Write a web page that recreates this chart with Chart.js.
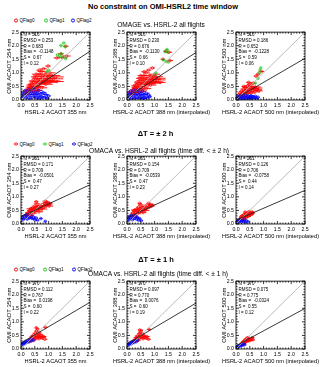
<!DOCTYPE html>
<html>
<head>
<meta charset="utf-8">
<script src="https://cdn.jsdelivr.net/npm/chart.js@4.4.0/dist/chart.umd.min.js"></script>
<style>
  body { margin: 0; background: #fff; width: 320px; height: 367px; overflow: hidden; position: relative;
         font-family: "Liberation Sans", Arial, sans-serif; color: #000; }
  .t { position: absolute; white-space: nowrap; transform: translate(-50%, -50%); }
  .h { font-weight: bold; font-size: 7.5px; }
  .s { font-size: 6.6px; }
  .lg { position: absolute; white-space: nowrap; font-size: 4.6px; transform: translateY(-50%); line-height: 5px; }
  .lg i { display: inline-block; width: 1.8px; height: 1.8px; border: 0.7px solid; border-radius: 50%;
          margin-right: 1.2px; vertical-align: middle; }
  canvas { position: absolute; }
</style>
</head>
<body>
<script>
// ---- text ----
const rowHeadings = ["No constraint on OMI-HSRL2 time window", "\u0394T = \u00b1 2 h", "\u0394T = \u00b1 1 h"];
const rowSubtitles = ["OMAGE vs. HSRL-2 all flights",
  "OMACA vs. HSRL-2 all flights (time diff. < \u00b1 2 h)",
  "OMACA vs. HSRL-2 all flights (time diff. < \u00b1 1 h)"];
const flagLabels = ["QFlag0", "QFlag1", "QFlag2"];
const flagColors = ["#ff0000", "#22cc22", "#0000ff"];
const xTitles = ["HSRL-2 ACAOT 355 nm", "HSRL-2 ACAOT 388 nm (interpolated)", "HSRL-2 ACAOT 500 nm (interpolated)"];
const yTitles = ["OMI ACAOT 354 nm", "OMI ACAOT 388 nm", "OMI ACAOT 500 nm"];
const tickValues = [0.0, 0.5, 1.0, 1.5, 2.0, 2.5];

// ---- statistics per panel (row by row) ----
const statN = [516, 516, 516, 251, 251, 251, 170, 170, 170];
const statRmsd = ["0.253", "0.230", "0.186", "0.171", "0.154", "0.126", "0.112", "0.097", "0.075"];
const statR = ["0.683", "0.676", "0.652", "0.709", "0.709", "0.706", "0.767", "0.770", "0.775"];
const statBias = ["-0.1148", "-0.1130", "-0.1228", "-0.0501", "-0.0539", "-0.0758", "0.0198", "0.0076", "-0.0324"];
const statS = [0.67, 0.66, 0.59, 0.47, 0.47, 0.44, 0.60, 0.60, 0.55];
const statI = [0.12, 0.10, 0.06, 0.27, 0.23, 0.14, 0.22, 0.19, 0.12];

// ---- points: [HSRL-2 AOT, OMI AOT, HSRL-2 error] ----
const r1p1Red = [[0.15,0.32,0.08],[0.20,0.22,0.1],[0.25,0.40,0.1],[0.28,0.30,0.12],[0.32,0.48,0.15],[0.35,0.36,0.1],
  [0.38,0.58,0.12],[0.42,0.44,0.2],[0.45,0.30,0.12],[0.46,0.66,0.15],[0.50,0.52,0.2],[0.52,0.78,0.12],[0.55,0.40,0.15],
  [0.58,0.60,0.25],[0.60,0.88,0.15],[0.62,0.70,0.2],[0.65,0.50,0.2],[0.68,0.96,0.12],[0.70,0.78,0.25],[0.72,0.62,0.2],
  [0.75,1.05,0.15],[0.78,0.86,0.2],[0.80,0.68,0.3],[0.82,1.15,0.12],[0.85,0.78,0.3],[0.88,0.95,0.2],[0.90,0.58,0.25],
  [0.92,0.72,0.3],[0.95,0.88,0.25],[0.98,1.25,0.1],[1.00,0.80,0.3],[1.05,1.00,0.2],[1.08,0.70,0.35],[1.12,0.90,0.3],
  [1.18,0.78,0.35],[1.25,0.85,0.3],[1.30,0.68,0.25],[0.55,0.95,0.15],[0.40,0.70,0.12],[0.30,0.55,0.1],[0.62,0.35,0.15],
  [0.75,0.45,0.2],[1.30,1.55,0.12],[1.50,1.56,0.18],[1.62,1.98,0.1],[1.65,1.62,0.15],[1.45,1.70,0.1],
  [0.48,0.85,0.12],[0.66,1.10,0.1],[0.85,0.62,0.25],[1.00,0.65,0.3],[0.36,0.46,0.15],[0.58,0.50,0.2]];
const r1p1Green = [[1.55,2.10,0.05],[1.45,2.00,0.05],[1.60,1.96,0.04],[1.46,1.70,0.05],[1.32,1.66,0.05],[1.40,1.60,0.04],
  [1.55,1.58,0.05],[1.62,1.52,0.04],[1.00,1.10,0.05],[0.95,1.05,0.04]];
const r1p1Blue = [[0.02,0.18,0.03],[0.05,0.28,0.05],[0.08,0.12,0.05],[0.12,0.22,0.06],[0.15,0.35,0.08],[0.18,0.08,0.08],
  [0.22,0.26,0.1],[0.25,0.15,0.1],[0.28,0.38,0.1],[0.32,0.05,0.1],[0.35,0.22,0.12],[0.38,0.30,0.1],[0.42,0.12,0.12],
  [0.45,0.42,0.1],[0.48,0.20,0.15],[0.52,0.30,0.12],[0.55,0.08,0.12],[0.58,0.25,0.15],[0.62,0.15,0.15],[0.65,0.35,0.12],
  [0.68,0.05,0.12],[0.72,0.22,0.15],[0.75,0.12,0.15],[0.80,0.28,0.12],[0.85,0.10,0.12],[0.90,0.20,0.1],[0.95,0.06,0.08],
  [1.00,0.15,0.08]];

const r1p2Red = [[0.12,0.30,0.08],[0.18,0.20,0.1],[0.22,0.38,0.1],[0.25,0.28,0.12],[0.28,0.45,0.12],[0.32,0.34,0.1],
  [0.35,0.55,0.12],[0.38,0.42,0.18],[0.40,0.28,0.12],[0.42,0.62,0.15],[0.45,0.50,0.2],[0.48,0.72,0.12],[0.50,0.38,0.15],
  [0.52,0.58,0.22],[0.55,0.82,0.15],[0.58,0.66,0.2],[0.60,0.48,0.2],[0.62,0.90,0.12],[0.65,0.74,0.22],[0.68,0.58,0.2],
  [0.70,1.00,0.12],[0.72,0.80,0.2],[0.75,0.64,0.28],[0.78,1.10,0.1],[0.80,0.74,0.28],[0.82,0.90,0.2],[0.85,0.55,0.22],
  [0.88,0.68,0.28],[0.90,0.84,0.22],[0.92,1.18,0.1],[0.95,0.76,0.28],[1.00,0.95,0.2],[1.02,0.66,0.3],[1.05,0.86,0.25],
  [1.10,0.74,0.3],[1.15,0.80,0.25],[1.20,0.65,0.2],[0.50,0.90,0.12],[0.36,0.66,0.1],[0.26,0.52,0.1],[0.56,0.33,0.15],
  [0.70,0.42,0.18],[1.52,1.76,0.12],[1.40,1.80,0.08],[1.55,1.45,0.12],[1.30,1.50,0.08],
  [0.44,0.80,0.12],[0.62,1.04,0.1],[0.78,0.60,0.25],[0.95,0.62,0.28],[0.33,0.44,0.15]];
const r1p2Green = [[1.45,1.86,0.05],[1.38,1.78,0.04],[1.48,1.76,0.04],[1.32,1.48,0.05],[1.42,1.42,0.04],[1.50,1.40,0.05],
  [1.05,1.00,0.04],[1.00,0.95,0.04]];
const r1p2Blue = [[0.02,0.16,0.03],[0.05,0.26,0.05],[0.08,0.10,0.05],[0.10,0.22,0.06],[0.13,0.32,0.08],[0.16,0.06,0.08],
  [0.20,0.24,0.1],[0.22,0.14,0.1],[0.25,0.36,0.1],[0.28,0.05,0.1],[0.30,0.20,0.12],[0.33,0.28,0.1],[0.36,0.10,0.12],
  [0.40,0.38,0.1],[0.42,0.18,0.14],[0.45,0.28,0.12],[0.48,0.06,0.12],[0.50,0.22,0.14],[0.54,0.14,0.14],[0.56,0.32,0.12],
  [0.60,0.05,0.12],[0.62,0.20,0.14],[0.65,0.10,0.14],[0.70,0.25,0.12],[0.74,0.08,0.1],[0.78,0.18,0.1],[0.82,0.12,0.08]];

const r1p3Red = [[0.10,0.18,0.06],[0.14,0.25,0.08],[0.18,0.15,0.08],[0.20,0.32,0.1],[0.24,0.22,0.1],[0.26,0.40,0.1],
  [0.30,0.28,0.12],[0.32,0.18,0.1],[0.34,0.46,0.1],[0.36,0.34,0.15],[0.40,0.24,0.12],[0.42,0.52,0.12],[0.44,0.38,0.15],
  [0.48,0.30,0.15],[0.50,0.58,0.1],[0.52,0.44,0.18],[0.55,0.26,0.15],[0.58,0.50,0.15],[0.60,0.36,0.2],[0.62,0.62,0.1],
  [0.65,0.42,0.18],[0.68,0.30,0.2],[0.70,0.48,0.2],[0.74,0.38,0.2],[0.78,0.44,0.18],[0.82,0.34,0.15],[0.28,0.50,0.08],
  [0.46,0.65,0.1],[0.80,0.95,0.08],[0.92,1.05,0.1],[0.72,0.88,0.08]];
const r1p3Green = [[0.90,1.18,0.03],[0.87,1.10,0.03],[0.84,1.00,0.03],[0.80,0.80,0.03],[0.70,0.62,0.03]];
const r1p3Blue = [[0.02,0.08,0.03],[0.05,0.14,0.04],[0.08,0.04,0.05],[0.12,0.10,0.06],[0.15,0.16,0.06],[0.18,0.06,0.08],
  [0.22,0.12,0.08],[0.25,0.03,0.08],[0.28,0.14,0.1],[0.32,0.08,0.1],[0.35,0.18,0.1],[0.38,0.05,0.1],[0.42,0.11,0.12],
  [0.45,0.15,0.1],[0.48,0.04,0.1],[0.52,0.10,0.12],[0.55,0.16,0.1],[0.58,0.06,0.1],[0.62,0.12,0.1],[0.66,0.08,0.1],
  [0.70,0.14,0.08],[0.75,0.05,0.08],[0.80,0.10,0.06]];

const r2p1Red = [[0.20,0.32,0.08],[0.25,0.42,0.1],[0.30,0.36,0.12],[0.32,0.50,0.1],[0.36,0.30,0.1],[0.40,0.46,0.15],
  [0.42,0.58,0.12],[0.45,0.40,0.12],[0.48,0.54,0.2],[0.50,0.66,0.12],[0.52,0.48,0.15],[0.55,0.60,0.2],[0.58,0.74,0.12],
  [0.60,0.52,0.2],[0.62,0.64,0.15],[0.65,0.45,0.15],[0.68,0.58,0.2],[0.72,0.68,0.15],[0.75,0.55,0.2],[0.80,0.62,0.15],
  [0.85,0.76,0.12],[0.88,0.84,0.1],[0.90,0.68,0.15],[0.92,0.80,0.12],[0.95,0.72,0.15],[1.00,0.78,0.12],[1.02,0.66,0.15],
  [1.05,0.74,0.1],[0.55,0.82,0.08],[0.35,0.56,0.15]];
const r2p1Green = [];
const r2p1Blue = [[0.02,0.20,0.03],[0.05,0.26,0.05],[0.08,0.16,0.05],[0.12,0.30,0.08],[0.15,0.22,0.08],[0.18,0.34,0.08],
  [0.22,0.18,0.1],[0.25,0.28,0.1],[0.30,0.24,0.1],[0.35,0.32,0.1],[0.40,0.20,0.1],[0.45,0.26,0.08],[0.50,0.16,0.08],
  [0.55,0.22,0.06],[0.60,0.14,0.06],[0.72,0.20,0.06],[0.88,0.10,0.05]];

const r2p2Red = [[0.15,0.30,0.08],[0.20,0.40,0.08],[0.24,0.34,0.1],[0.26,0.48,0.1],[0.30,0.28,0.1],[0.32,0.44,0.12],
  [0.35,0.54,0.1],[0.38,0.38,0.12],[0.40,0.50,0.15],[0.42,0.62,0.1],[0.45,0.44,0.12],[0.48,0.56,0.15],[0.50,0.70,0.1],
  [0.52,0.48,0.15],[0.55,0.60,0.12],[0.58,0.42,0.12],[0.60,0.54,0.15],[0.64,0.64,0.12],[0.66,0.50,0.15],[0.70,0.58,0.12],
  [0.74,0.70,0.1],[0.78,0.76,0.08],[0.80,0.62,0.12],[0.84,0.72,0.1],[0.88,0.66,0.12],[0.92,0.70,0.08],[0.46,0.76,0.08],
  [0.28,0.52,0.12]];
const r2p2Green = [];
const r2p2Blue = [[0.02,0.18,0.03],[0.05,0.24,0.04],[0.08,0.14,0.05],[0.10,0.28,0.06],[0.13,0.20,0.06],[0.16,0.32,0.06],
  [0.20,0.16,0.08],[0.23,0.26,0.08],[0.27,0.22,0.08],[0.30,0.30,0.08],[0.34,0.18,0.08],[0.38,0.24,0.06],[0.42,0.14,0.06],
  [0.46,0.20,0.05],[0.52,0.12,0.05]];

const r2p3Red = [[0.15,0.20,0.06],[0.18,0.26,0.06],[0.20,0.18,0.06],[0.22,0.30,0.08],[0.25,0.24,0.08],[0.28,0.34,0.08],
  [0.30,0.20,0.08],[0.32,0.28,0.1],[0.35,0.38,0.08],[0.37,0.24,0.08],[0.40,0.32,0.1],[0.42,0.42,0.08],[0.44,0.28,0.1],
  [0.46,0.36,0.1],[0.48,0.46,0.06],[0.50,0.32,0.1],[0.52,0.40,0.08],[0.55,0.36,0.08],[0.58,0.44,0.06],[0.60,0.38,0.06],
  [0.62,0.42,0.05],[0.33,0.44,0.06]];
const r2p3Green = [];
const r2p3Blue = [[0.02,0.08,0.03],[0.05,0.12,0.03],[0.08,0.06,0.04],[0.10,0.14,0.05],[0.13,0.10,0.05],[0.16,0.16,0.05],
  [0.20,0.08,0.06],[0.23,0.13,0.06],[0.27,0.10,0.06],[0.30,0.16,0.05],[0.34,0.06,0.05],[0.38,0.12,0.05],[0.44,0.08,0.04]];

const r3p1Red = [[0.30,0.28,0.08],[0.34,0.36,0.1],[0.38,0.30,0.1],[0.40,0.44,0.1],[0.42,0.38,0.12],[0.45,0.50,0.1],
  [0.48,0.34,0.12],[0.50,0.46,0.15],[0.52,0.58,0.1],[0.54,0.42,0.12],[0.56,0.66,0.08],[0.58,0.52,0.12],[0.60,0.74,0.06],
  [0.62,0.46,0.12],[0.64,0.60,0.1],[0.66,0.38,0.12],[0.68,0.54,0.12],[0.72,0.48,0.15],[0.76,0.42,0.15],[0.80,0.46,0.12],
  [0.88,0.80,0.08],[0.86,0.36,0.1],[0.55,0.78,0.05]];
const r3p1Green = [];
const r3p1Blue = [[0.02,0.16,0.03],[0.05,0.20,0.03],[0.08,0.18,0.04],[0.10,0.24,0.05],[0.14,0.20,0.05],[0.17,0.28,0.05],
  [0.20,0.24,0.06],[0.24,0.30,0.06],[0.28,0.26,0.06],[0.32,0.34,0.06],[0.36,0.30,0.05],[0.40,0.36,0.05],[0.45,0.32,0.05]];

const r3p2Red = [[0.25,0.28,0.08],[0.28,0.34,0.08],[0.32,0.30,0.1],[0.34,0.42,0.1],[0.36,0.36,0.1],[0.38,0.48,0.1],
  [0.40,0.32,0.1],[0.42,0.44,0.12],[0.44,0.56,0.08],[0.46,0.40,0.12],[0.48,0.62,0.06],[0.50,0.50,0.1],[0.52,0.68,0.05],
  [0.54,0.44,0.1],[0.56,0.56,0.08],[0.58,0.38,0.1],[0.60,0.50,0.1],[0.64,0.44,0.12],[0.68,0.40,0.12],[0.72,0.46,0.1],
  [0.80,0.72,0.08],[0.78,0.36,0.08],[0.46,0.70,0.05]];
const r3p2Green = [];
const r3p2Blue = [[0.02,0.14,0.03],[0.05,0.18,0.03],[0.08,0.16,0.04],[0.10,0.22,0.04],[0.13,0.18,0.05],[0.16,0.26,0.05],
  [0.19,0.22,0.05],[0.22,0.28,0.05],[0.26,0.24,0.05],[0.30,0.30,0.05],[0.34,0.27,0.05],[0.38,0.32,0.04]];

const r3p3Red = [[0.20,0.18,0.06],[0.23,0.24,0.06],[0.26,0.20,0.08],[0.28,0.28,0.08],[0.30,0.22,0.08],[0.32,0.32,0.08],
  [0.34,0.26,0.08],[0.36,0.36,0.08],[0.38,0.28,0.1],[0.40,0.40,0.06],[0.42,0.32,0.1],[0.44,0.42,0.05],[0.46,0.30,0.1],
  [0.48,0.36,0.08],[0.52,0.32,0.1],[0.56,0.38,0.08],[0.60,0.42,0.06],[0.62,0.34,0.05]];
const r3p3Green = [];
const r3p3Blue = [[0.02,0.06,0.02],[0.04,0.09,0.03],[0.07,0.08,0.03],[0.09,0.12,0.03],[0.12,0.10,0.04],[0.15,0.14,0.04],
  [0.18,0.12,0.04],[0.21,0.16,0.04],[0.25,0.14,0.04],[0.28,0.18,0.04],[0.32,0.16,0.04]];

const panelRed = [r1p1Red, r1p2Red, r1p3Red, r2p1Red, r2p2Red, r2p3Red, r3p1Red, r3p2Red, r3p3Red];
const panelGreen = [r1p1Green, r1p2Green, r1p3Green, r2p1Green, r2p2Green, r2p3Green, r3p1Green, r3p2Green, r3p3Green];
const panelBlue = [r1p1Blue, r1p2Blue, r1p3Blue, r2p1Blue, r2p2Blue, r2p3Blue, r3p1Blue, r3p2Blue, r3p3Blue];

// ---- layout (pixels) ----
const PLOT_LEFT = [21, 127, 236];
const PLOT_TOP = [31, 155, 280];
const PLOT_SIZE = 69;
const AX_W = 20, AX_H = 17, PAD_T = 4, PAD_R = 16;
const headingPos = [[163, 5.5], [155.5, 133], [156, 259.3]];
const subtitlePos = [[161, 24.3], [159, 149.7], [158, 273.3]];
const legendY = [20, 143.7, 269.3];
const legendX = [[16, 46, 73], [16, 45, 74], [16, 45, 74]];
const FONT = '"Liberation Sans", Arial, sans-serif';

function addText(cls, text, x, y) {
  const d = document.createElement("div");
  d.className = cls;
  d.textContent = text;
  d.style.left = x + "px";
  d.style.top = y + "px";
  document.body.appendChild(d);
  return d;
}

function addLegend(row) {
  flagLabels.forEach((label, k) => {
    const d = document.createElement("div");
    d.className = "lg";
    d.style.left = (legendX[row][k] - 1.6) + "px";
    d.style.top = legendY[row] + "px";
    const mark = document.createElement("i");
    mark.style.borderColor = flagColors[k];
    d.appendChild(mark);
    d.appendChild(document.createTextNode(label));
    document.body.appendChild(d);
  });
}

// horizontal error bars drawn under the markers
const errorBars = {
  id: "errorBars",
  beforeDatasetsDraw(chart) {
    const { ctx, scales: { x, y } } = chart;
    ctx.save();
    ctx.lineWidth = 0.9;
    chart.data.datasets.forEach(ds => {
      if (!ds.errBars) return;
      ctx.strokeStyle = ds.borderColor;
      ds.data.forEach(p => {
        const py = y.getPixelForValue(p.y);
        ctx.beginPath();
        ctx.moveTo(x.getPixelForValue(p.x - p.e), py);
        ctx.lineTo(x.getPixelForValue(p.x + p.e), py);
        ctx.stroke();
      });
    });
    ctx.restore();
  }
};

// box frame with inward ticks, the x title (not squeezed to axis width) and the statistics block
const frameAndStats = {
  id: "frameAndStats",
  afterDraw(chart, args, opts) {
    const { ctx, chartArea: a, scales: { x, y } } = chart;
    ctx.save();
    ctx.strokeStyle = "#000";
    ctx.lineWidth = 0.8;
    ctx.strokeRect(a.left, a.top, a.right - a.left, a.bottom - a.top);
    ctx.beginPath();
    for (let k = 0; k <= 25; k++) {
      const v = k / 10;
      const len = k % 5 === 0 ? 3 : 1.5;
      const px = x.getPixelForValue(v), py = y.getPixelForValue(v);
      ctx.moveTo(px, a.bottom); ctx.lineTo(px, a.bottom - len);
      ctx.moveTo(px, a.top); ctx.lineTo(px, a.top + len);
      ctx.moveTo(a.left, py); ctx.lineTo(a.left + len, py);
      ctx.moveTo(a.right, py); ctx.lineTo(a.right - len, py);
    }
    ctx.stroke();
    ctx.fillStyle = "#000";
    ctx.textBaseline = "middle";
    ctx.textAlign = "center";
    ctx.font = "5.7px " + FONT;
    ctx.fillText(opts.xTitle, (a.left + a.right) / 2, a.bottom + 12.5);
    ctx.textAlign = "left";
    ctx.font = "4.5px " + FONT;
    opts.lines.forEach((line, i) => ctx.fillText(line, a.left + 2.5, a.top + 3 + i * 5.7));
    ctx.restore();
  }
};

function toPoints(arr) {
  return arr.map(p => ({ x: p[0], y: p[1], e: p[2] }));
}

function makePanel(row, col) {
  const i = row * 3 + col;
  const canvas = document.createElement("canvas");
  canvas.width = AX_W + PLOT_SIZE + PAD_R;
  canvas.height = PAD_T + PLOT_SIZE + AX_H;
  canvas.style.left = (PLOT_LEFT[col] - AX_W) + "px";
  canvas.style.top = (PLOT_TOP[row] - PAD_T) + "px";
  document.body.appendChild(canvas);

  const lo = tickValues[0], hi = tickValues[tickValues.length - 1];
  const marker = color => ({
    pointStyle: "circle", pointRadius: 1.3, pointBorderWidth: 0.7,
    borderColor: color, backgroundColor: "rgba(0,0,0,0)", errBars: true
  });
  const axisFont = { family: FONT, size: 5.2 };

  new Chart(canvas, {
    type: "scatter",
    data: {
      datasets: [
        { data: [{ x: lo, y: statI[i] + statS[i] * lo }, { x: hi, y: statI[i] + statS[i] * hi }],
          showLine: true, pointRadius: 0, borderColor: "#222", borderWidth: 0.9 },
        { data: [{ x: lo, y: lo }, { x: hi, y: hi }],
          showLine: true, pointRadius: 0, borderColor: "#b4b4b4", borderWidth: 0.9 },
        Object.assign({ data: toPoints(panelGreen[i]) }, marker(flagColors[1])),
        Object.assign({ data: toPoints(panelBlue[i]) }, marker(flagColors[2])),
        Object.assign({ data: toPoints(panelRed[i]) }, marker(flagColors[0]))
      ]
    },
    options: {
      responsive: false,
      devicePixelRatio: 1,
      animation: false,
      events: [],
      layout: { padding: { top: PAD_T, right: PAD_R, left: 0, bottom: 0 } },
      plugins: {
        legend: { display: false },
        tooltip: { enabled: false },
        frameAndStats: {
          xTitle: xTitles[col],
          lines: ["N = " + statN[i], "RMSD = " + statRmsd[i], "R = " + statR[i],
                  "Bias =  " + statBias[i], "S =  " + statS[i].toFixed(2), "I = " + statI[i].toFixed(2)]
        }
      },
      scales: {
        x: {
          type: "linear", min: lo, max: hi,
          afterBuildTicks: s => { s.ticks = tickValues.map(v => ({ value: v })); },
          afterFit: s => { s.height = AX_H; },
          grid: { display: false, drawTicks: false }, border: { display: false },
          ticks: { font: axisFont, color: "#000", padding: 2.9, maxRotation: 0, autoSkip: false,
                   callback: v => v.toFixed(1) }
        },
        y: {
          type: "linear", min: lo, max: hi,
          afterBuildTicks: s => { s.ticks = tickValues.map(v => ({ value: v })); },
          afterFit: s => { s.width = AX_W; },
          grid: { display: false, drawTicks: false }, border: { display: false },
          ticks: { font: axisFont, color: "#000", padding: 2, autoSkip: false,
                   callback: v => v.toFixed(1) },
          title: { display: true, text: yTitles[col], color: "#000", padding: { top: 5, bottom: 0 },
                   font: { family: FONT, size: 6, lineHeight: 1 } }
        }
      }
    },
    plugins: [errorBars, frameAndStats]
  });
}

for (let row = 0; row < 3; row++) {
  addText("t h", rowHeadings[row], headingPos[row][0], headingPos[row][1]);
  addLegend(row);
  for (let col = 0; col < 3; col++) makePanel(row, col);
  addText("t s", rowSubtitles[row], subtitlePos[row][0], subtitlePos[row][1]);
}
</script>
</body>
</html>
